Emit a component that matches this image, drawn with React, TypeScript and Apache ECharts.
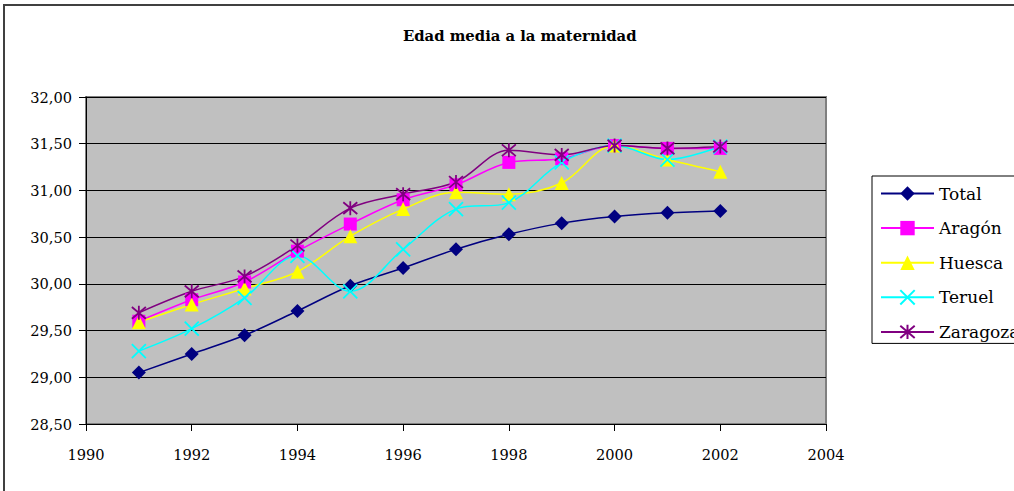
import React, { useEffect, useRef } from "react";
import * as echarts from "echarts";

const years = [1991, 1992, 1993, 1994, 1995, 1996, 1997, 1998, 1999, 2000, 2001, 2002];
const total = [29.05, 29.25, 29.45, 29.71, 29.98, 30.17, 30.37, 30.53, 30.65, 30.72, 30.76, 30.78];
const aragon = [29.6, 29.83, 30.02, 30.35, 30.64, 30.9, 31.06, 31.3, 31.34, 31.48, 31.45, 31.45];
const huesca = [29.59, 29.78, 29.95, 30.13, 30.51, 30.8, 30.98, 30.96, 31.08, 31.48, 31.33, 31.2];
const teruel = [29.28, 29.52, 29.85, 30.3, 29.92, 30.37, 30.8, 30.87, 31.3, 31.48, 31.33, 31.47];
const zaragoza = [29.69, 29.92, 30.08, 30.41, 30.81, 30.96, 31.09, 31.43, 31.38, 31.48, 31.45, 31.47];

const seriesNames = ["Total", "Aragón", "Huesca", "Teruel", "Zaragoza"];
const seriesData = [total, aragon, huesca, teruel, zaragoza];
const colors = ["#000080", "#FF00FF", "#FFFF00", "#00FFFF", "#800080"];
const symbols = [
  "diamond",
  "rect",
  "triangle",
  "path://M0,0L10,10M10,0L0,10",
  "path://M5,0L5,10M0.8,0.8L9.2,9.2M9.2,0.8L0.8,9.2",
];
const symbolSizes = [14, 13, 14, 14, 14];

const FONT = "DejaVu Serif";

export default function App() {
  const ref = useRef<HTMLDivElement>(null);
  useEffect(() => {
    if (!ref.current) return;
    const chart = echarts.init(ref.current, null, { renderer: "svg" });
    const series = seriesNames.map((name, i) => ({
      name,
      type: "line",
      data: years.map((y, j) => [y, seriesData[i][j]]),
      smooth: 0.35,
      symbol: symbols[i],
      symbolSize: symbolSizes[i],
      showAllSymbol: true,
      lineStyle: { color: colors[i], width: 1.5 },
      itemStyle: {
        color: colors[i],
        borderColor: i >= 3 ? colors[i] : undefined,
        borderWidth: i >= 3 ? 1.8 : 0,
      },
      emphasis: { disabled: true },
    }));
    chart.setOption({
      animation: false,
      backgroundColor: "#FFFFFF",
      title: {
        text: "Edad media a la maternidad",
        left: 403,
        top: 28,
        padding: 0,
        textStyle: { fontFamily: FONT, fontSize: 14.8, fontWeight: "bold", color: "#000" },
      },
      graphic: [
        {
          type: "rect",
          shape: { x: 4, y: 5, width: 1200, height: 700 },
          style: { fill: "none", stroke: "#404040", lineWidth: 2 },
          silent: true,
        },
      ],
      legend: {
        orient: "vertical",
        left: 872,
        top: 176,
        padding: [9, 8, 3, 8],
        itemWidth: 53,
        itemHeight: 18,
        itemGap: 17.6,
        backgroundColor: "#FFFFFF",
        borderColor: "#000000",
        borderWidth: 1,
        borderRadius: 0,
        textStyle: { fontFamily: FONT, fontSize: 17, color: "#000" },
        data: seriesNames,
      },
      grid: {
        left: 86,
        right: 188,
        top: 97,
        bottom: 67,
        show: true,
        backgroundColor: "#C0C0C0",
        borderColor: "#808080",
        borderWidth: 2,
      },
      xAxis: {
        type: "value",
        min: 1990,
        max: 2004,
        interval: 2,
        axisLine: { show: true, lineStyle: { color: "#000", width: 1 } },
        axisTick: { show: true, length: 7, lineStyle: { color: "#000" } },
        splitLine: { show: false },
        axisLabel: {
          fontFamily: FONT,
          fontSize: 14.6,
          color: "#000",
          margin: 23,
          formatter: (v: number) => String(v),
        },
      },
      yAxis: {
        type: "value",
        min: 28.5,
        max: 32,
        interval: 0.5,
        axisLine: { show: true, lineStyle: { color: "#000", width: 1 } },
        axisTick: { show: true, length: 7, lineStyle: { color: "#000" } },
        splitLine: { show: true, lineStyle: { color: "#000", width: 1 } },
        axisLabel: {
          fontFamily: FONT,
          fontSize: 14.6,
          color: "#000",
          margin: 14,
          formatter: (v: number) => v.toFixed(2).replace(".", ","),
        },
      },
      series,
    });
    return () => chart.dispose();
  }, []);
  return (
    <div
      ref={ref}
      style={{ position: "fixed", left: 0, top: 0, width: 1014, height: 491 }}
    />
  );
}
